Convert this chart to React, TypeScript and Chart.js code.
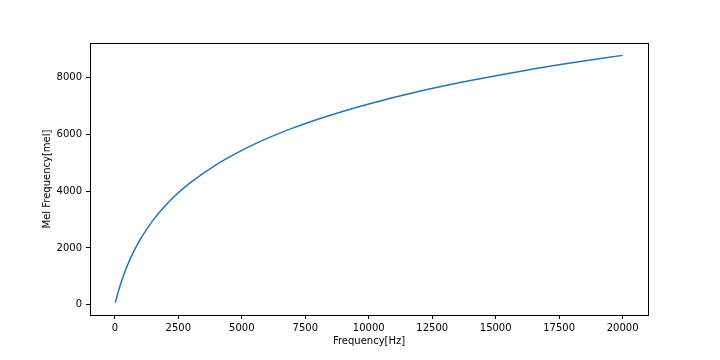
import React, { useEffect, useRef } from "react";
import { Chart, registerables } from "chart.js";

Chart.register(...registerables);

const freqHz = [20, 50, 100, 150, 200, 300, 400, 500, 750, 1000, 1500, 2000, 2500, 3000, 4000, 5000, 6000, 7000, 8000, 9000, 10000, 12000, 14000, 16000, 18000, 20000];
const melValues = [73, 179, 347, 504, 652, 926, 1173, 1399, 1890, 2303, 2972, 3503, 3944, 4321, 4941, 5442, 5862, 6223, 6539, 6822, 7076, 7521, 7900, 8232, 8525, 8789];
const xTicks = [0, 2500, 5000, 7500, 10000, 12500, 15000, 17500, 20000];
const yTicks = [0, 2000, 4000, 6000, 8000];
const xLabel = "Frequency[Hz]";
const yLabel = "Mel Frequency[mel]";

const FONT = { family: "'DejaVu Sans', sans-serif", size: 10 };

const framePlugin = {
  id: "frame",
  afterDraw(chart: any) {
    const { ctx, chartArea } = chart;
    ctx.save();
    ctx.strokeStyle = "#000";
    ctx.lineWidth = 1;
    ctx.strokeRect(Math.round(chartArea.left) + 0.5, Math.round(chartArea.top) + 0.5, Math.round(chartArea.right - chartArea.left), Math.round(chartArea.bottom - chartArea.top));
    ctx.restore();
  },
};

export default function App() {
  const ref = useRef<HTMLCanvasElement | null>(null);
  useEffect(() => {
    if (!ref.current) return;
    const chart = new Chart(ref.current, {
      type: "line",
      data: {
        datasets: [
          {
            data: freqHz.map((f, i) => ({ x: f, y: melValues[i] })),
            borderColor: "#1f77b4",
            borderWidth: 1.5,
            pointRadius: 0,
            cubicInterpolationMode: "monotone",
            fill: false,
          },
        ],
      },
      options: {
        animation: false,
        responsive: false,
        maintainAspectRatio: false,
        layout: { padding: { top: 43, right: 72, left: 0, bottom: 0 } },
        plugins: { legend: { display: false }, tooltip: { enabled: false } },
        scales: {
          x: {
            type: "linear",
            min: -979,
            max: 20999,
            afterBuildTicks: (s: any) => {
              s.ticks = xTicks.map((v) => ({ value: v }));
            },
            afterFit: (s: any) => {
              s.height = 45;
            },
            grid: { drawOnChartArea: false, drawTicks: true, tickLength: 4, color: "#000" },
            border: { display: true, color: "#000" },
            ticks: { color: "#000", font: FONT, padding: 3, maxRotation: 0, autoSkip: false, callback: (v: any) => String(v) },
            title: { display: true, text: xLabel, color: "#000", font: FONT, padding: { top: 0, bottom: 13 } },
          },
          y: {
            type: "linear",
            min: -363,
            max: 9225,
            afterBuildTicks: (s: any) => {
              s.ticks = yTicks.map((v) => ({ value: v }));
            },
            afterFit: (s: any) => {
              s.width = 90;
            },
            grid: { drawOnChartArea: false, drawTicks: true, tickLength: 4, color: "#000" },
            border: { display: true, color: "#000" },
            ticks: { color: "#000", font: FONT, padding: 4, autoSkip: false, callback: (v: any) => String(v) },
            title: { display: true, text: yLabel, color: "#000", font: FONT, padding: { top: 41, bottom: 0 } },
          },
        },
      },
      plugins: [framePlugin],
    } as any);
    return () => chart.destroy();
  }, []);
  return (
    <div style={{ position: "fixed", left: 0, top: 0, width: 720, height: 360, background: "#fff" }}>
      <canvas ref={ref} width={720} height={360} style={{ width: 720, height: 360 }} />
    </div>
  );
}
